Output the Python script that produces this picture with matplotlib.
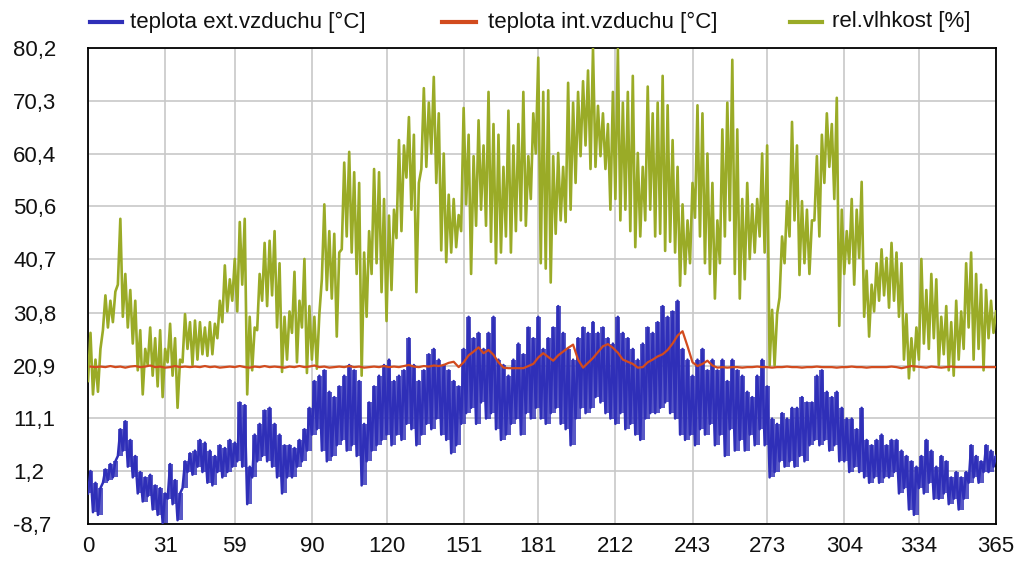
import numpy as np
import matplotlib
matplotlib.use("Agg")
import matplotlib.pyplot as plt
from matplotlib.lines import Line2D

plt.rcParams['font.family'] = ['Liberation Sans', 'DejaVu Sans']

# start day of each 2-day block (0, 2, ..., 364)
block_days = list(range(0, 365, 2))

# teplota ext.vzduchu [°C] - low / high of each 2-day block
ext_lo = [-3, -6.5, -7, -1, -0.5, 0, 4, 5, 2, 0,
          -3, -4.5, -3.5, -6, -7, -8.5, -4, -5, -8, -2,
          1, 0.5, 2, 1, -1, -1.5, 1, 0, 1, 2,
          3, 2, -5, 0, 3, 4, 3, 2, 0, -3,
          0, 0, 2, 3, 5, 8, 9, 5, 3, 4,
          6, 7, 5, 6, 4, -1.5, 3, 5, 6, 7,
          8, 6, 8, 7, 10, 9, 6, 8, 10, 9,
          11, 8, 7, 4.5, 6, 10, 12, 13, 10, 14,
          11, 12, 9, 7, 8, 10, 11, 8, 12, 11,
          13, 11, 10, 12, 13, 10, 9, 6, 11, 13,
          12, 13, 15, 14, 12, 11, 10, 12, 9, 10,
          8, 7, 11, 12, 12, 13, 14, 12, 11, 8,
          7, 8, 6, 9, 8, 10, 6, 8, 4, 9,
          5, 7, 5, 8, 6, 9, 6, 0, 1, 3,
          2, 3, 2, 4, 3, 6, 7, 6, 7, 5,
          6, 3, 3, 1, 2, 1, 0, -1, 0, -1,
          0, 0, 1, -3, -2, -6, -7, -2, -3, -1,
          -4, -4, -3, -5, -4, -6, -4, -1, 0, -1,
          1, 1, 2]
ext_hi = [1.2, -1, -2, 1.5, 2.5, 3, 9, 10.5, 7, 4,
          1, 0, 0.5, -1.5, -2, -3, 2.5, -0.5, -3, 3,
          4.5, 5, 7, 6.5, 5, 4, 6, 5.5, 7, 6.5,
          14, 13.5, 2, 8, 10, 12.5, 13, 10, 8, 6,
          6, 5.5, 7, 9, 13, 18, 19, 20, 16, 15,
          17, 19, 21, 20, 18, 10, 14, 17, 19, 21,
          22, 18, 19, 20, 26, 21, 18, 20, 23, 24,
          22, 21, 20, 18, 17, 24, 30, 26, 27, 24,
          27, 30, 22, 21, 19, 22, 25, 23, 28, 26,
          30, 24, 26, 28, 32, 27, 24, 22, 26, 28,
          27, 29, 27, 28, 26, 25, 30, 27, 26, 24,
          22, 25, 28, 27, 29, 32, 30, 31, 33, 24,
          22, 19, 22, 24, 20, 22, 20, 22, 18, 22,
          20, 19, 16, 15, 19, 22, 17, 11, 10, 12,
          11, 13, 13, 15, 14, 14, 19, 20, 16, 15,
          16, 13, 11, 11, 9, 13, 7, 6, 7, 8,
          6, 7, 7, 5, 4, 3, 2, 4, 7, 5,
          2, 4, 3, 0, 1, 0, 1, 6, 4, 3,
          6, 5, 4]

# rel.vlhkost [%] - low / high of each 2-day block
hum_lo = [18, 15.5, 16, 27.5, 28, 29, 36, 30, 28, 25,
          20, 15.5, 21, 19, 17, 15, 21.5, 19, 13, 21.5,
          24, 21, 22, 23, 22.7, 23, 26, 29, 31, 33,
          31, 36, 15.5, 20, 27.5, 33, 32, 34, 28, 19.7,
          22, 27, 21.5, 28, 19.5, 22, 20.3, 37, 35, 33.4,
          26.3, 42.6, 45, 42, 38, 19, 30, 38, 40, 34.6,
          29.2, 35, 44.7, 46, 56, 50, 34.6, 57.6, 58, 60.5,
          55, 42.4, 40.2, 42, 43, 46, 51, 38, 47, 50,
          47, 44, 40, 42, 45, 42, 46, 48, 47, 52,
          60.5, 40, 39, 36.4, 45.5, 48, 47.7, 50, 55, 60,
          62, 57.6, 58, 60, 57.6, 50, 52, 48, 50, 46,
          43, 45, 48, 50, 45, 45.5, 42.3, 44, 42, 35.8,
          38, 40, 48.5, 45, 40, 38, 33.4, 40, 45, 48,
          38, 33.4, 37, 40.8, 42, 45, 42, 20.9, 20.9, 33.6,
          40, 45, 48, 37.8, 40, 38, 48, 45, 55, 58,
          52, 28.3, 38, 40, 36, 41, 30, 26.3, 31, 33,
          34, 31.7, 33, 30, 22, 18.5, 20, 22, 25, 24,
          26, 21, 23, 20, 19, 22, 24, 28, 22, 24,
          20, 26, 27]
hum_hi = [27, 22, 24, 34, 33, 34.7, 48.3, 38, 35, 33,
          27.5, 24, 28, 26, 27.5, 24, 28.7, 26, 22, 30.5,
          29, 29.3, 29, 28, 29, 28.7, 33, 39.6, 37, 40.8,
          47.7, 48.3, 30, 28, 38, 43.8, 44.2, 46, 40, 30,
          31, 38.4, 33, 40.8, 32, 30, 30.5, 51, 46, 45.5,
          42, 58.8, 60.8, 57, 55, 42, 46, 57.6, 57, 52,
          48.9, 50, 63, 62, 67.3, 64, 55, 72.7, 70, 74.8,
          68, 60.5, 52.8, 52, 49, 69, 64, 60, 66.7, 62,
          72, 66, 64, 58, 68.5, 62, 66, 72, 60, 68,
          78.4, 72, 72.3, 60, 60.6, 58, 73.7, 70, 72, 74,
          76, 80.1, 69.4, 68, 66, 72, 80, 70, 72, 75,
          60.6, 58, 73, 68, 70, 75, 69.5, 63, 58, 51,
          48, 55, 69.5, 68, 60.5, 55, 48, 65, 70, 78,
          65, 52, 55, 51, 52, 60.5, 62, 31.3, 30.5, 45,
          51.6, 66.4, 62, 51.6, 50, 48, 60, 64, 68, 66,
          70.9, 50, 46, 52, 50, 55.2, 38.6, 36, 40, 42.6,
          41, 43.8, 42, 40, 30.5, 26, 28, 40.8, 35, 38,
          37, 30, 32, 29, 33, 31, 40, 42, 38, 36,
          35, 33, 31]

# teplota int.vzduchu [°C] - one value per 2-day block
int_t = [20.7, 20.6, 20.7, 20.6, 20.8, 20.6, 20.7, 20.5, 20.7, 20.8,
         20.6, 20.7, 20.9, 20.6, 20.7, 20.5, 20.6, 20.8, 20.6, 20.7,
         20.6, 20.7, 20.6, 20.8, 20.6, 20.7, 20.5, 20.6, 20.7, 20.6,
         20.8, 20.6, 20.5, 20.7, 20.6, 20.8, 20.6, 20.7, 20.6, 20.5,
         20.7, 20.6, 20.8, 20.6, 20.7, 20.9, 20.6, 20.7, 20.5, 20.6,
         20.7, 20.6, 20.8, 20.6, 20.7, 20.5, 20.6, 20.7, 20.6, 20.8,
         20.6, 20.7, 20.6, 20.8, 21.0, 20.7, 20.6, 20.8, 20.7, 20.9,
         20.8, 21.0, 21.4, 21.6, 20.6, 21.5, 22.8, 23.5, 24.3, 23.2,
         23.8, 22.9, 21.5, 20.5, 20.4, 20.4, 20.4, 20.4, 20.8, 21.2,
         22.4, 23.2, 22.5, 21.8, 22.8, 23.5, 24.2, 24.8, 22.0, 20.5,
         21.4, 22.3, 23.4, 24.5, 24.9, 24.2, 23.3, 22.0, 21.6, 21.2,
         20.5, 20.6, 21.5, 22.0, 22.6, 23.0, 23.8, 25.0, 26.5, 27.3,
         24.5, 21.5, 20.8, 21.2, 21.8, 20.9, 20.5, 20.6, 20.5, 20.6,
         20.6, 20.5, 20.6, 20.6, 20.7, 20.6, 20.6, 20.5, 20.6, 20.6,
         20.7, 20.6, 20.6, 20.5, 20.6, 20.6, 20.7, 20.6, 20.6, 20.6,
         20.5, 20.6, 20.6, 20.7, 20.6, 20.6, 20.5, 20.6, 20.6, 20.6,
         20.6, 20.7, 20.6, 20.4, 20.6, 20.8, 20.7, 20.6, 20.5, 20.7,
         20.6, 20.5, 20.6, 20.7, 20.6, 20.6, 20.6, 20.6, 20.6, 20.6,
         20.6, 20.6, 20.6]

x_ticks = [0, 31, 59, 90, 120, 151, 181, 212, 243, 273, 304, 334, 365]
y_ticks = [-8.7, 1.2, 11.1, 20.9, 30.8, 40.7, 50.6, 60.4, 70.3, 80.2]
y_labels = ['-8,7', '1,2', '11,1', '20,9', '30,8', '40,7', '50,6', '60,4', '70,3', '80,2']

names = ['teplota ext.vzduchu [°C]', 'teplota int.vzduchu [°C]', 'rel.vlhkost [%]']
colors = ['#2f2fb8', '#d24b1e', '#9aab27']


def zigzag(lo, hi):
    d = np.array(block_days)
    x = np.column_stack([d, d + 1]).ravel()
    y = np.column_stack([lo, hi]).ravel()
    return x, y


W, H = 1018, 571
fig = plt.figure(figsize=(W / 100, H / 100), dpi=100)
ax = fig.add_axes([88 / W, 1 - 524 / H, 908 / W, 476 / H])

# blue: daily band is mostly solid in the original, fill the block range
d_edges = np.append(block_days, 365)
ax.fill_between(d_edges, np.append(ext_lo, ext_lo[-1]), np.append(ext_hi, ext_hi[-1]),
                step='post', color=colors[0], lw=0, alpha=0.8, zorder=2)
xb, yb = zigzag(ext_lo, ext_hi)
ax.plot(xb, yb, color=colors[0], lw=1.8, zorder=3)
xg, yg = zigzag(hum_lo, hum_hi)
ax.plot(xg, yg, color=colors[2], lw=1.9, zorder=4)
ax.plot(np.array(block_days) + 1, int_t, color=colors[1], lw=1.6, zorder=5)

ax.set_xlim(0, 365)
ax.set_ylim(-8.7, 80.2)
ax.set_xticks(x_ticks)
ax.set_xticklabels([str(t) for t in x_ticks])
ax.set_yticks(y_ticks)
ax.set_yticklabels(y_labels, ha='left')
ax.tick_params(axis='both', length=0, labelsize=16, colors='#111111')
ax.tick_params(axis='y', pad=54)
ax.tick_params(axis='x', pad=9)
ax.grid(True, color='#c8c8c8', lw=1.2, zorder=0)
ax.set_axisbelow(True)
for s in ax.spines.values():
    s.set_color('black')
    s.set_linewidth(1.3)

# legend row at the top
leg_y = 1 - 22 / H
handle_x = [(90, 122), (442, 476), (790, 822)]
text_x = [130, 488, 832]
for (a, b), tx, c, n in zip(handle_x, text_x, colors, names):
    fig.add_artist(Line2D([a / W, b / W], [leg_y, leg_y], color=c, lw=3,
                          transform=fig.transFigure))
    fig.text(tx / W, leg_y, n, fontsize=16, va='center', ha='left', color='#111111')

fig.savefig('out.png', dpi=100)
